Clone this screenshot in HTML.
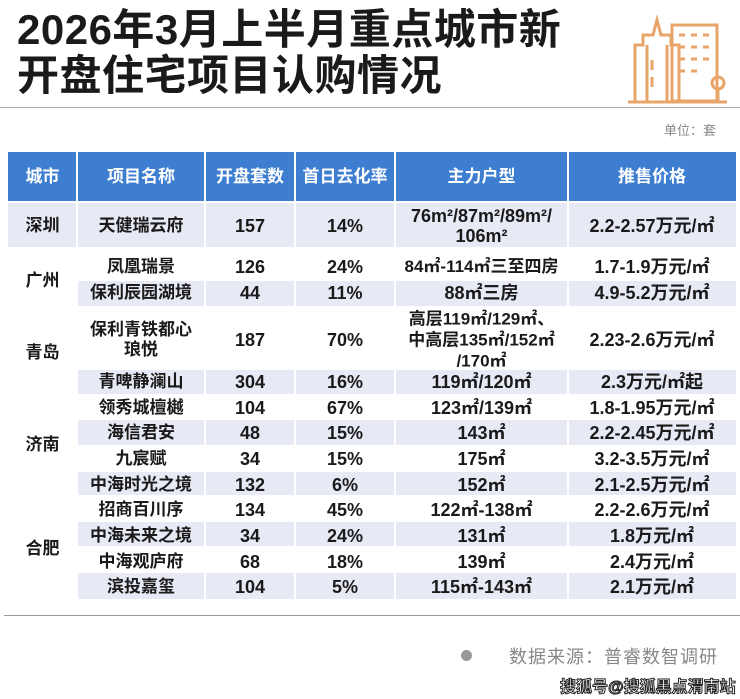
<!DOCTYPE html>
<html><head><meta charset="utf-8"><style>
body{margin:0;width:740px;height:699px;background:#fff;position:relative;overflow:hidden;font-family:"Liberation Sans","Noto Sans CJK SC",sans-serif;}
.a{position:absolute}
.t{position:absolute;left:17px;font-size:42px;font-weight:bold;color:#1a1a1a;letter-spacing:0.5px;line-height:46px}
.c{position:absolute;text-align:center;font-weight:bold;font-size:17px;color:#1a1a1a;line-height:20px;transform:translateY(-50%)}
.band{position:absolute;background:#e7e9f4}
</style></head><body>
<div class="t" style="top:7px">2026年3月上半月重点城市新</div>
<div class="t" style="top:53px">开盘住宅项目认购情况</div>
<svg class="a" style="left:625px;top:5px" width="105" height="100" viewBox="0 0 105 100" fill="none" stroke="#e9a46a" stroke-width="3">
<path d="M10 96V40h8V30h10l4-15 4 15h10v10h8v56"/><path d="M22 40v56M42 40v56"/>
<rect x="47" y="20" width="45" height="76"/><path d="M54 30h6M66 30h6M78 30h6M54 42h6M66 42h6M78 42h6M54 54h6M66 54h6M78 54h6M54 66h6M66 66h6M27 55v10M27 72v10"/>
<path d="M3 97h99"/><circle cx="93" cy="78" r="6"/><path d="M93 84v12"/></svg>
<div class="a" style="left:0;top:107px;width:740px;height:1px;background:#aaa"></div>
<div class="a" style="left:664px;top:120px;font-size:13px;color:#888">单位：套</div>
<div class="a" style="left:8px;top:152px;width:728px;height:50px;background:#3d7ed0"></div>
<div class="band" style="left:8px;top:203px;width:728px;height:44px"></div>
<div class="band" style="left:77px;top:281px;width:659px;height:25px"></div>
<div class="band" style="left:77px;top:370px;width:659px;height:24px"></div>
<div class="band" style="left:77px;top:420px;width:659px;height:25px"></div>
<div class="band" style="left:77px;top:472px;width:659px;height:23px"></div>
<div class="band" style="left:77px;top:522px;width:659px;height:24px"></div>
<div class="band" style="left:77px;top:573px;width:659px;height:26px"></div>
<svg class="a" style="left:0;top:152px" width="740" height="450"><g stroke="#fff" stroke-width="2">
<line x1="77" y1="0" x2="77" y2="450"/><line x1="205" y1="0" x2="205" y2="450"/><line x1="295" y1="0" x2="295" y2="450"/><line x1="395" y1="0" x2="395" y2="450"/><line x1="568" y1="0" x2="568" y2="450"/><line x1="0" y1="50" x2="740" y2="50"/></g></svg>
<div style="color:#fff">
<div class="c" style="color:#fff;left:8px;width:69px;top:177px">城市</div>
<div class="c" style="color:#fff;left:77px;width:128px;top:177px">项目名称</div>
<div class="c" style="color:#fff;left:205px;width:90px;top:177px">开盘套数</div>
<div class="c" style="color:#fff;left:295px;width:100px;top:177px">首日去化率</div>
<div class="c" style="color:#fff;left:395px;width:173px;top:177px">主力户型</div>
<div class="c" style="color:#fff;left:568px;width:168px;top:177px">推售价格</div>
</div>
<div class="c" style="left:8px;width:69px;top:226px">深圳</div>
<div class="c" style="left:8px;width:69px;top:281px">广州</div>
<div class="c" style="left:8px;width:69px;top:353px">青岛</div>
<div class="c" style="left:8px;width:69px;top:445px">济南</div>
<div class="c" style="left:8px;width:69px;top:549px">合肥</div>

<div class="c" style="left:77px;width:128px;top:226px">天健瑞云府</div>
<div class="c" style="left:205px;width:90px;top:226px;font-size:18px">157</div>
<div class="c" style="left:295px;width:100px;top:226px;font-size:18px">14%</div>
<div class="c" style="left:395px;width:173px;top:226px;font-size:18px">76m²/87m²/89m²/<br>106m²</div>
<div class="c" style="left:568px;width:168px;top:226px;font-size:18px">2.2-2.57万元/㎡</div>

<div class="c" style="left:77px;width:128px;top:267px">凤凰瑞景</div><div class="c" style="left:205px;width:90px;top:267px;font-size:18px">126</div><div class="c" style="left:295px;width:100px;top:267px;font-size:18px">24%</div><div class="c" style="left:395px;width:173px;top:267px;font-size:17px">84㎡-114㎡三至四房</div><div class="c" style="left:568px;width:168px;top:267px;font-size:18px">1.7-1.9万元/㎡</div>
<div class="c" style="left:77px;width:128px;top:293px">保利辰园湖境</div><div class="c" style="left:205px;width:90px;top:293px;font-size:18px">44</div><div class="c" style="left:295px;width:100px;top:293px;font-size:18px">11%</div><div class="c" style="left:395px;width:173px;top:293px;font-size:18px">88㎡三房</div><div class="c" style="left:568px;width:168px;top:293px;font-size:18px">4.9-5.2万元/㎡</div>
<div class="c" style="left:77px;width:128px;top:340px">保利青铁都心<br>琅悦</div><div class="c" style="left:205px;width:90px;top:340px;font-size:18px">187</div><div class="c" style="left:295px;width:100px;top:340px;font-size:18px">70%</div><div class="c" style="left:395px;width:173px;top:340px;font-size:17px;line-height:21px">高层119㎡/129㎡、<br>中高层135㎡/152㎡<br>/170㎡</div><div class="c" style="left:568px;width:168px;top:340px;font-size:18px">2.23-2.6万元/㎡</div>
<div class="c" style="left:77px;width:128px;top:382px">青啤静澜山</div><div class="c" style="left:205px;width:90px;top:382px;font-size:18px">304</div><div class="c" style="left:295px;width:100px;top:382px;font-size:18px">16%</div><div class="c" style="left:395px;width:173px;top:382px;font-size:18px">119㎡/120㎡</div><div class="c" style="left:568px;width:168px;top:382px;font-size:18px">2.3万元/㎡起</div>
<div class="c" style="left:77px;width:128px;top:408px">领秀城檀樾</div><div class="c" style="left:205px;width:90px;top:408px;font-size:18px">104</div><div class="c" style="left:295px;width:100px;top:408px;font-size:18px">67%</div><div class="c" style="left:395px;width:173px;top:408px;font-size:18px">123㎡/139㎡</div><div class="c" style="left:568px;width:168px;top:408px;font-size:18px">1.8-1.95万元/㎡</div>
<div class="c" style="left:77px;width:128px;top:433px">海信君安</div><div class="c" style="left:205px;width:90px;top:433px;font-size:18px">48</div><div class="c" style="left:295px;width:100px;top:433px;font-size:18px">15%</div><div class="c" style="left:395px;width:173px;top:433px;font-size:18px">143㎡</div><div class="c" style="left:568px;width:168px;top:433px;font-size:18px">2.2-2.45万元/㎡</div>
<div class="c" style="left:77px;width:128px;top:459px">九宸赋</div><div class="c" style="left:205px;width:90px;top:459px;font-size:18px">34</div><div class="c" style="left:295px;width:100px;top:459px;font-size:18px">15%</div><div class="c" style="left:395px;width:173px;top:459px;font-size:18px">175㎡</div><div class="c" style="left:568px;width:168px;top:459px;font-size:18px">3.2-3.5万元/㎡</div>
<div class="c" style="left:77px;width:128px;top:485px">中海时光之境</div><div class="c" style="left:205px;width:90px;top:485px;font-size:18px">132</div><div class="c" style="left:295px;width:100px;top:485px;font-size:18px">6%</div><div class="c" style="left:395px;width:173px;top:485px;font-size:18px">152㎡</div><div class="c" style="left:568px;width:168px;top:485px;font-size:18px">2.1-2.5万元/㎡</div>
<div class="c" style="left:77px;width:128px;top:510px">招商百川序</div><div class="c" style="left:205px;width:90px;top:510px;font-size:18px">134</div><div class="c" style="left:295px;width:100px;top:510px;font-size:18px">45%</div><div class="c" style="left:395px;width:173px;top:510px;font-size:18px">122㎡-138㎡</div><div class="c" style="left:568px;width:168px;top:510px;font-size:18px">2.2-2.6万元/㎡</div>
<div class="c" style="left:77px;width:128px;top:536px">中海未来之境</div><div class="c" style="left:205px;width:90px;top:536px;font-size:18px">34</div><div class="c" style="left:295px;width:100px;top:536px;font-size:18px">24%</div><div class="c" style="left:395px;width:173px;top:536px;font-size:18px">131㎡</div><div class="c" style="left:568px;width:168px;top:536px;font-size:18px">1.8万元/㎡</div>
<div class="c" style="left:77px;width:128px;top:562px">中海观庐府</div><div class="c" style="left:205px;width:90px;top:562px;font-size:18px">68</div><div class="c" style="left:295px;width:100px;top:562px;font-size:18px">18%</div><div class="c" style="left:395px;width:173px;top:562px;font-size:18px">139㎡</div><div class="c" style="left:568px;width:168px;top:562px;font-size:18px">2.4万元/㎡</div>
<div class="c" style="left:77px;width:128px;top:587px">滨投嘉玺</div><div class="c" style="left:205px;width:90px;top:587px;font-size:18px">104</div><div class="c" style="left:295px;width:100px;top:587px;font-size:18px">5%</div><div class="c" style="left:395px;width:173px;top:587px;font-size:18px">115㎡-143㎡</div><div class="c" style="left:568px;width:168px;top:587px;font-size:18px">2.1万元/㎡</div>

<div class="a" style="left:4px;top:615px;width:736px;height:1px;background:#999"></div>
<div class="a" style="left:461px;top:650px;width:11px;height:11px;border-radius:50%;background:#999"></div>
<div class="a" style="left:509px;top:643px;font-size:18px;color:#888;letter-spacing:1px">数据来源：普睿数智调研</div>
<div class="a" style="left:560px;top:673px;font-size:16px;font-weight:bold;color:#fff;-webkit-text-stroke:1px #222">搜狐号@搜狐黑点渭南站</div>
</body></html>
